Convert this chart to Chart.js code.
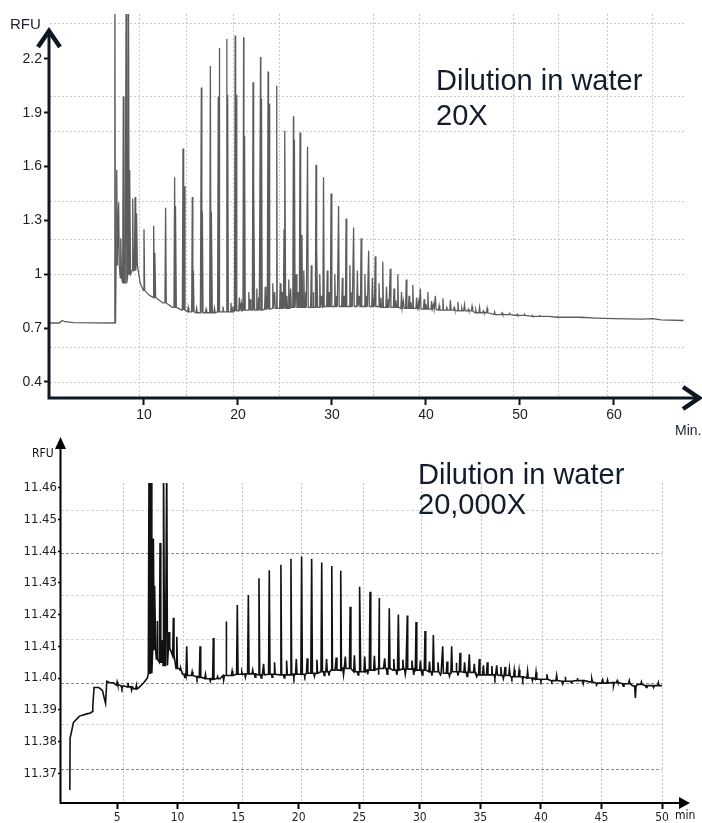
<!DOCTYPE html>
<html>
<head>
<meta charset="utf-8">
<script src="https://cdn.jsdelivr.net/npm/chart.js@4.4.1/dist/chart.umd.min.js"></script>
<style>
  body { margin: 0; background: #fff; width: 702px; height: 823px; position: relative; overflow: hidden; font-family: 'Liberation Sans', Arial, sans-serif; }
  canvas { position: absolute; left: 0; }
  #top { top: 0; }
  #bot { top: 420px; }
  .lbl { position: absolute; white-space: nowrap; color: #1a2230; line-height: 1; }
  .note { position: absolute; white-space: nowrap; color: #131c2b; font-size: 29px; }
  .narrow { font-family: 'Liberation Sans Narrow', 'DejaVu Sans Condensed', sans-serif; color: #111; }
</style>
</head>
<body>
<canvas id="top" width="702" height="425"></canvas>
<canvas id="bot" width="702" height="403"></canvas>

<div class="lbl" style="left:10px;top:16px;font-size:15px;">RFU</div>
<div class="lbl" style="left:675px;top:423px;font-size:14px;">Min.</div>
<div class="note" style="left:436px;top:63px;line-height:35px;">Dilution in water<br>20X</div>

<div class="lbl narrow" style="left:32px;top:447px;font-size:12px;">RFU</div>
<div class="lbl narrow" style="left:675px;top:809px;font-size:12px;">min</div>
<div class="note" style="left:418px;top:459px;line-height:30px;">Dilution in water<br>20,000X</div>

<script>
// ---------- top trace: dilution 20X ----------
const topXTicks = [10, 20, 30, 40, 50, 60];
const topYTicks = [0.4, 0.7, 1, 1.3, 1.6, 1.9, 2.2];

// baseline (time in min, RFU)
const topBaseT = [0, 1.0, 1.3, 1.6, 2.5, 6.8, 7.1, 7.5, 8.0, 8.5, 9.0, 9.2, 9.6, 10.0, 10.5, 11, 12, 13, 14, 15, 16, 17, 18, 19, 20,
  21, 22, 23, 24, 25, 26, 28, 30, 32, 34, 36, 38, 40, 42, 44, 46, 48, 50, 52, 55, 58, 60, 63, 64.1, 65, 67.4];
const topBaseV = [0.728, 0.728, 0.742, 0.735, 0.730, 0.728, 1.05, 0.98, 0.95, 1.0, 1.02, 1.05, 0.95, 0.91, 0.885, 0.87, 0.84, 0.815, 0.80, 0.79, 0.785, 0.785, 0.79, 0.79, 0.795,
  0.80, 0.80, 0.805, 0.81, 0.81, 0.815, 0.815, 0.82, 0.82, 0.82, 0.815, 0.81, 0.805, 0.80, 0.795, 0.785, 0.775, 0.77, 0.765, 0.76, 0.755, 0.752, 0.75, 0.752, 0.745, 0.742];

// main peaks
const topPeakT = [6.9, 7.1, 7.3, 7.55, 7.8, 8.1, 8.35, 8.5, 8.8, 9.05, 9.22, 10.0, 11.06, 11.17, 12.3, 13.26, 13.37, 14.15, 14.29, 15.14, 15.25,
  16.1, 16.21, 17.06, 17.2, 17.9, 18.0, 18.8, 18.9, 19.7, 19.8, 20.6, 20.7, 21.6, 21.7, 22.4, 22.5, 23.2, 23.3, 24.1, 24.15, 24.9, 25.0,
  25.9, 26.0, 26.6, 26.8, 27.4, 28.3, 28.4, 29.1, 29.9, 30.7, 31.5, 32.3, 33.1, 33.9, 34.6, 35.4, 36.2, 37.0, 37.9, 38.6, 39.4, 40.2,
  41.0, 41.8, 42.6, 43.4, 44.1, 44.9, 45.7, 46.5];
const topPeakH = [2.6, 1.58, 1.40, 1.2, 1.99, 2.6, 2.6, 1.58, 1.42, 1.43, 1.34, 1.25, 1.27, 1.12, 1.37, 1.54, 1.38, 1.70, 1.49, 1.43, 1.02,
  2.04, 1.35, 2.16, 1.35, 1.99, 2.26, 2.31, 2.0, 2.33, 2.0, 2.32, 1.77, 2.07, 1.5, 2.21, 1.98, 2.13, 1.95, 2.05, 1.79, 1.25, 1.80,
  1.88, 1.75, 1.79, 1.22, 1.71, 1.61, 1.15, 1.54, 1.45, 1.38, 1.31, 1.26, 1.20, 1.13, 1.10, 1.07, 1.03, 1.0, 0.97, 0.94, 0.92, 0.90,
  0.88, 0.866, 0.855, 0.845, 0.83, 0.82, 0.815, 0.81];

// secondary peaks and ripple
const topMinorT = [14.7, 15.6, 16.6, 17.5, 18.4, 19.25, 19.45, 20.15, 20.35, 21.15, 21.3, 22.0, 22.2, 22.9, 23.05, 23.7, 23.9,
  24.5, 24.7, 25.2, 25.4, 25.6, 26.2, 26.4, 27.0, 27.2, 27.8, 28.0, 28.7, 28.9, 29.5, 29.7, 30.3, 30.5, 31.1, 31.3, 31.9, 32.1,
  32.7, 32.9, 33.5, 33.7, 34.3, 34.45, 35.0, 35.2, 35.8, 36.0, 36.6, 36.8, 37.4, 37.6, 38.2, 38.4, 39.0, 39.2, 39.8, 40.0, 40.6,
  40.8, 41.4, 42.2, 43.0, 43.8, 44.5, 45.3, 46.1, 47.3, 48.1, 48.9, 49.7, 50.5, 51.3, 52.1, 53.0, 54.0, 55.0, 56.5, 58.2];
const topMinorH = [0.815, 0.81, 0.805, 0.81, 0.82, 0.84, 0.82, 0.87, 0.84, 0.9, 0.86, 0.92, 0.87, 0.93, 0.88, 0.95, 0.9,
  0.95, 0.9, 0.88, 0.97, 0.92, 1.0, 0.9, 1.02, 0.9, 1.05, 0.9, 1.0, 0.88, 1.02, 0.9, 1.0, 0.88, 0.98, 0.88, 1.05, 0.9,
  1.02, 0.88, 1.0, 0.88, 0.98, 0.87, 0.95, 0.87, 0.93, 0.86, 0.92, 0.855, 0.90, 0.85, 0.88, 0.845, 0.87, 0.84, 0.86, 0.835, 0.85,
  0.83, 0.825, 0.82, 0.815, 0.81, 0.805, 0.80, 0.795, 0.79, 0.785, 0.782, 0.777, 0.775, 0.77, 0.768, 0.765, 0.763, 0.76, 0.758, 0.755];

// ---------- bottom trace: dilution 20,000X ----------
const botXTicks = [5, 10, 15, 20, 25, 30, 35, 40, 45, 50];
const botYTicks = [11.37, 11.38, 11.39, 11.40, 11.41, 11.42, 11.43, 11.44, 11.45, 11.46];

const botBaseT = [1.1, 1.12, 1.4, 1.9, 2.5, 2.8, 2.98, 3.0, 3.1, 3.5, 3.8, 3.95, 4.05, 4.15, 4.4, 4.7, 5.2, 5.6, 6.0, 6.4, 6.8, 7.2, 7.5, 7.65,
  8.0, 8.3, 8.7, 9.0, 9.4, 9.7, 10.0, 10.4, 11, 11.5, 12, 12.5, 13, 13.5, 14, 15, 16, 17, 18, 19, 20, 21, 22, 23, 24, 25, 26, 27, 28,
  29, 30, 31, 32, 33, 34, 35, 36, 37, 38, 39, 40, 41, 42, 43, 44, 45, 46, 47, 47.6, 48, 49, 50];
const botBaseV = [11.3647, 11.381, 11.386, 11.388, 11.3887, 11.389, 11.3895, 11.3915, 11.397, 11.397, 11.396, 11.3935, 11.392, 11.399, 11.3985, 11.3985, 11.3978, 11.3975, 11.3972, 11.3966, 11.397, 11.3985, 11.400, 11.4015,
  11.409, 11.406, 11.405, 11.404, 11.409, 11.407, 11.403, 11.4012, 11.4008, 11.4005, 11.4002, 11.3998, 11.3996, 11.3998, 11.4008, 11.4012, 11.4013, 11.401, 11.4012, 11.401, 11.4012, 11.4015, 11.402, 11.4025, 11.403, 11.402, 11.4025, 11.403, 11.4025,
  11.4028, 11.4025, 11.402, 11.4015, 11.402, 11.4018, 11.401, 11.401, 11.4008, 11.4004, 11.4, 11.3996, 11.3992, 11.399, 11.3992, 11.3988, 11.3984, 11.3986, 11.3982, 11.3975, 11.398, 11.3976, 11.3976];

const botPeakT = [7.64, 7.81, 8.0, 8.13, 8.3, 8.55, 8.75, 8.86, 9.1, 9.29, 9.65, 9.93, 10.75, 11.85, 12.95, 14.0, 14.93, 15.84, 16.72, 17.57,
  18.53, 19.36, 20.24, 21.07, 21.9, 22.73, 23.47, 24.25, 25.06, 25.89, 26.66, 27.48, 28.23, 28.97, 29.69, 30.43, 31.12, 31.89, 32.63,
  33.32, 34.09, 34.91, 35.57, 36.35, 37.04, 37.8];
const botPeakH = [11.47, 11.47, 11.444, 11.429, 11.418, 11.4426, 11.412, 11.47, 11.47, 11.4145, 11.419, 11.413, 11.410, 11.410, 11.4126, 11.4178, 11.423, 11.4262, 11.4315, 11.434,
  11.4357, 11.4376, 11.4383, 11.4376, 11.4364, 11.4353, 11.4338, 11.4225, 11.4288, 11.4272, 11.4252, 11.422, 11.420, 11.4197, 11.4177, 11.4148, 11.4136, 11.410, 11.410,
  11.408, 11.4075, 11.406, 11.405, 11.404, 11.4035, 11.4025];

// secondary peaks and noise (ups and dips)
const botMinorT = [5.0, 5.4, 5.9, 6.2, 6.6, 10.2, 10.6, 11.2, 11.6, 12.3, 12.7, 13.3, 13.8, 14.5, 15.3, 15.6, 16.2, 16.4, 16.9, 17.1, 17.8, 18.0, 18.8, 19.0, 19.6, 19.8, 20.5, 20.7, 21.3, 21.5, 22.1, 22.3, 22.5, 23.1, 23.7, 23.85,
  24.6, 24.9, 25.45, 25.7, 26.25, 26.6, 27.1, 27.3, 27.85, 28.1, 28.6, 28.8, 29.35, 29.5, 30.05, 30.2, 30.8, 31.0, 31.5, 31.7, 32.25, 32.45, 33.0, 33.15, 33.7, 33.9, 34.5, 34.7, 35.25, 35.95, 36.2, 36.7, 36.9,
  37.4, 37.6, 38.2, 38.5, 38.9, 39.3, 39.6, 40.0, 40.5, 40.9, 41.3, 41.8, 42.0, 42.5, 43.0, 43.5, 44.2, 44.6, 45.1, 45.5, 46.0, 46.3, 46.8, 47.3, 47.8, 48.3, 48.7, 49.3, 49.7];
const botMinorH = [11.3988, 11.3968, 11.3985, 11.3962, 11.3978, 11.4025, 11.4, 11.402, 11.3998, 11.4012, 11.399, 11.4005, 11.3993, 11.4022, 11.402, 11.4002, 11.4025, 11.4003, 11.4, 11.4045, 11.4003, 11.405, 11.4, 11.4055, 11.4002, 11.406, 11.4005, 11.4062, 11.4005, 11.4058, 11.4008, 11.406, 11.4008, 11.4065, 11.401, 11.4068,
  11.4072, 11.401, 11.4068, 11.4012, 11.407, 11.401, 11.4062, 11.4012, 11.406, 11.401, 11.4058, 11.4012, 11.4055, 11.401, 11.4055, 11.401, 11.4052, 11.4008, 11.405, 11.401, 11.4052, 11.4006, 11.4048, 11.4008, 11.405, 11.4005, 11.4045, 11.4004, 11.404, 11.4038, 11.4, 11.4035, 11.3998,
  11.403, 11.3998, 11.4025, 11.3995, 11.4022, 11.3992, 11.4018, 11.399, 11.4012, 11.3988, 11.4008, 11.3982, 11.4004, 11.3985, 11.400, 11.3982, 11.3998, 11.3978, 11.3995, 11.3994, 11.3976, 11.3992, 11.3974, 11.3992, 11.3937, 11.3988, 11.397, 11.397, 11.3986];

// dotted grid positions (the grid in the source image is offset from the ticks)
const topGridX = [9.5, 14.5, 19.5, 24.4, 34.4, 39.3, 49.3, 54.1, 59.3, 64.1];
const topGridY = [0.394, 0.594, 0.996, 1.196, 1.403, 1.793, 1.988, 2.395];
const botGridX = [5.49, 10.45, 15.32, 20.27, 25.31, 30.1, 35.1, 40.1, 45.04, 50.0];
const botGridY = [11.3713, 11.3852, 11.3984, 11.412, 11.4259, 11.4394, 11.4527];
const botGridDark = [11.3713, 11.3984, 11.4394];

function nearestIndex(arr, t) {
  let best = 0;
  arr.forEach((v, i) => { if (Math.abs(v - t) < Math.abs(arr[best] - t)) best = i; });
  return best;
}

// baseline points plus a narrow spike for every peak, sitting on the nearest baseline reading
function traceOf(baseT, baseV, lists, w) {
  const pts = baseT.map((t, i) => ({ x: t, y: baseV[i] }));
  lists.forEach(([ts, hs]) => ts.forEach((t, i) => {
    const b = baseV[nearestIndex(baseT, t)];
    pts.push({ x: t - w, y: b }, { x: t, y: hs[i] }, { x: t + w, y: b });
  }));
  return pts.sort((a, b) => a.x - b.x);
}

const fixTicks = list => s => { s.ticks = list.map(v => ({ value: v })); };

// axis lines with arrow heads, drawn over the chart
const arrowAxes = {
  id: 'arrowAxes',
  afterDraw(chart, args, o) {
    const { ctx, chartArea: a } = chart;
    ctx.save();
    ctx.strokeStyle = o.color;
    ctx.fillStyle = o.color;
    ctx.lineWidth = o.width;
    const x0 = a.left - o.width / 2 + 0.5;
    ctx.beginPath();
    ctx.moveTo(a.left - o.width / 2, a.bottom);
    ctx.lineTo(o.xEnd, a.bottom);
    ctx.moveTo(x0, a.bottom + o.width / 2);
    ctx.lineTo(x0, o.yEnd);
    ctx.stroke();
    if (o.chevron) {
      ctx.lineWidth = o.headWidth;
      ctx.lineJoin = 'miter';
      ctx.beginPath();
      ctx.moveTo(o.xEnd - 16, a.bottom - 11);
      ctx.lineTo(o.xEnd, a.bottom);
      ctx.lineTo(o.xEnd - 16, a.bottom + 11);
      ctx.moveTo(x0 - 11, o.yEnd + 16);
      ctx.lineTo(x0, o.yEnd);
      ctx.lineTo(x0 + 11, o.yEnd + 16);
      ctx.stroke();
    } else {
      ctx.beginPath();
      ctx.moveTo(o.xEnd + 10, a.bottom);
      ctx.lineTo(o.xEnd - 1, a.bottom - 6);
      ctx.lineTo(o.xEnd - 1, a.bottom + 6);
      ctx.closePath();
      ctx.moveTo(x0, o.yEnd - 11);
      ctx.lineTo(x0 - 5.5, o.yEnd + 1);
      ctx.lineTo(x0 + 5.5, o.yEnd + 1);
      ctx.closePath();
      ctx.fill();
    }
    ctx.restore();
  }
};

const sans = "'Liberation Sans', Arial, sans-serif";
const narrow = "'Liberation Sans Narrow', 'DejaVu Sans Condensed', sans-serif";

// top chart
new Chart(document.getElementById('top'), {
  type: 'line',
  data: {
    datasets: [{
      data: traceOf(topBaseT, topBaseV, [[topPeakT, topPeakH], [topMinorT, topMinorH]], 0.07),
      borderColor: '#5c5c5c', borderWidth: 1.3, pointRadius: 0, tension: 0, clip: 0
    }]
  },
  options: {
    responsive: false, animation: false, events: [],
    layout: { padding: { top: 14, right: 18, left: 0, bottom: 0 } },
    plugins: {
      legend: { display: false }, tooltip: { enabled: false },
      arrowAxes: { color: '#0f1724', width: 3, headWidth: 4.5, chevron: true, xEnd: 699, yEnd: 31 }
    },
    scales: {
      x: {
        type: 'linear', min: 0, max: 67.45,
        afterBuildTicks: fixTicks(topXTicks), afterFit: s => { s.height = 27; },
        ticks: { autoSkip: false, maxRotation: 0, padding: 2, color: '#1e1e1e', font: { family: sans, size: 14 } },
        grid: { drawOnChartArea: false, tickLength: 7, tickWidth: 2, tickColor: '#111' },
        border: { display: false }
      },
      gx: {
        type: 'linear', position: 'bottom', min: 0, max: 67.45,
        afterBuildTicks: fixTicks(topGridX), afterFit: s => { s.height = 0; },
        ticks: { display: false }, grid: { drawTicks: false, color: '#c9c9c9', lineWidth: 1 },
        border: { display: false, dash: [2, 2] }
      },
      y: {
        type: 'linear', min: 0.31, max: 2.45,
        afterBuildTicks: fixTicks(topYTicks), afterFit: s => { s.width = 50; },
        ticks: { autoSkip: false, padding: 2, color: '#1e1e1e', font: { family: sans, size: 14 }, callback: v => String(v) },
        grid: { drawOnChartArea: false, tickLength: 6, tickWidth: 2, tickColor: '#111' },
        border: { display: false }
      },
      gy: {
        type: 'linear', position: 'left', min: 0.31, max: 2.45,
        afterBuildTicks: fixTicks(topGridY), afterFit: s => { s.width = 0; },
        ticks: { display: false }, grid: { drawTicks: false, color: '#c9c9c9', lineWidth: 1 },
        border: { display: false, dash: [2, 2] }
      }
    }
  },
  plugins: [arrowAxes]
});

// bottom chart
new Chart(document.getElementById('bot'), {
  type: 'line',
  data: {
    datasets: [{
      data: traceOf(botBaseT, botBaseV, [[botPeakT, botPeakH], [botMinorT, botMinorH]], 0.06),
      borderColor: '#111', borderWidth: 1.6, pointRadius: 0, tension: 0, clip: 0
    }]
  },
  options: {
    responsive: false, animation: false, events: [],
    layout: { padding: { top: 63, right: 40, left: 0, bottom: 0 } },
    plugins: {
      legend: { display: false }, tooltip: { enabled: false },
      arrowAxes: { color: '#000', width: 2, chevron: false, xEnd: 680, yEnd: 28 }
    },
    scales: {
      x: {
        type: 'linear', min: 0.37, max: 50,
        afterBuildTicks: fixTicks(botXTicks), afterFit: s => { s.height = 20; },
        ticks: { autoSkip: false, maxRotation: 0, padding: 2, color: '#222', font: { family: narrow, size: 12 } },
        grid: { drawOnChartArea: false, tickLength: 6, tickWidth: 2, tickColor: '#000' },
        border: { display: false }
      },
      gx: {
        type: 'linear', position: 'bottom', min: 0.37, max: 50,
        afterBuildTicks: fixTicks(botGridX), afterFit: s => { s.height = 0; },
        ticks: { display: false }, grid: { drawTicks: false, color: '#c4c4c4', lineWidth: 1 },
        border: { display: false, dash: [2, 2] }
      },
      y: {
        type: 'linear', min: 11.3606, max: 11.4615,
        afterBuildTicks: fixTicks(botYTicks), afterFit: s => { s.width = 61; },
        ticks: { autoSkip: false, padding: 1, color: '#222', font: { family: narrow, size: 13 }, callback: v => v.toFixed(2) },
        grid: { drawOnChartArea: false, tickLength: 3, tickWidth: 1.5, tickColor: '#000' },
        border: { display: false }
      },
      gy: {
        type: 'linear', position: 'left', min: 11.3606, max: 11.4615,
        afterBuildTicks: fixTicks(botGridY), afterFit: s => { s.width = 0; },
        ticks: { display: false },
        grid: { drawTicks: false, lineWidth: 1, color: c => botGridDark.includes(c.tick && c.tick.value) ? '#8a8a8a' : '#d6d6d6' },
        border: { display: false, dash: [3, 2] }
      }
    }
  },
  plugins: [arrowAxes]
});
</script>
</body>
</html>
